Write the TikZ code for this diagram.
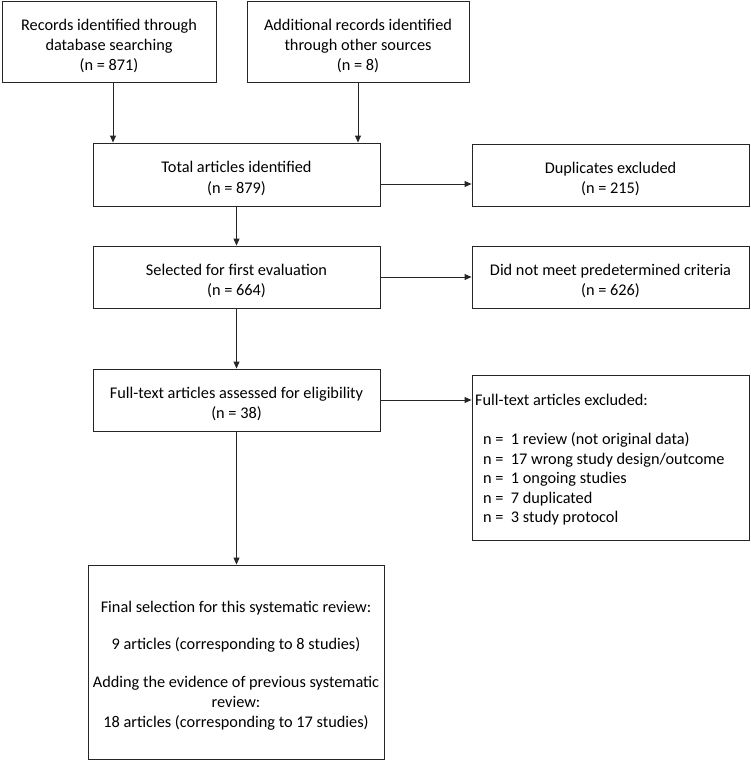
\documentclass[tikz,border=0pt]{standalone}
\usepackage{fontspec}
\setmainfont{Carlito}
\usetikzlibrary{arrows.meta}
\newcommand{\myst}{\rule{0pt}{19.5pt}}
\begin{document}
\begin{tikzpicture}[x=1pt,y=-1pt,
  box/.style={draw=black!85,line width=0.9pt,rectangle,inner sep=0pt,align=center,
     font=\fontsize{16.3}{20}\selectfont},
  arr/.style={draw=black!85,line width=0.9pt,-{Triangle[length=7pt,width=6pt]}}]
\useasboundingbox (0,0) rectangle (750,760);
\node[box,minimum width=214pt,minimum height=81pt] (rec) at (109,41.5)
  {\myst Records identified through\\database searching\\(n = 871)};
\node[box,minimum width=222pt,minimum height=81pt] (add) at (358,41.5)
  {\myst Additional records identified\\through other sources\\(n = 8)};
\node[box,minimum width=287pt,minimum height=63pt] (tot) at (236.5,174.5)
  {\myst Total articles identified\\[1pt](n = 879)};
\node[box,minimum width=277pt,minimum height=62pt] (dup) at (610.5,175)
  {\myst Duplicates excluded\\(n = 215)};
\node[box,minimum width=287pt,minimum height=62pt] (sel) at (236.5,277)
  {\myst Selected for first evaluation\\(n = 664)};
\node[box,minimum width=277pt,minimum height=62pt] (dnm) at (610.5,277)
  {\myst Did not meet predetermined criteria\\(n = 626)};
\node[box,minimum width=287pt,minimum height=62pt] (ful) at (236.5,400)
  {\myst Full-text articles assessed for eligibility\\(n = 38)};
\node[box,minimum width=277pt,minimum height=165pt] (exc) at (610.5,457.5) {};
\node[anchor=west,inner sep=0pt,align=left,font=\fontsize{16.3}{19.5}\selectfont]
  (exct) at (475,460)
  {Full-text articles excluded:\\[19.5pt]
   \hspace*{8pt}n = \ 1 review (not original data)\\
   \hspace*{8pt}n = \ 17 wrong study design/outcome\\
   \hspace*{8pt}n = \ 1 ongoing studies\\
   \hspace*{8pt}n = \ 7 duplicated\\
   \hspace*{8pt}n = \ 3 study protocol};
\node[box,minimum width=296pt,minimum height=194pt] (fin) at (236,662)
  {\myst Final selection for this systematic review:\\[17pt]
   9 articles (corresponding to 8 studies)\\[18pt]
   Adding the evidence of previous systematic\\review:\\
   18 articles (corresponding to 17 studies)};
\draw[arr] ([xshift=4pt]rec.south) -- ([xshift=4pt]rec.south |- tot.north);
\draw[arr] (add.south) -- (add.south |- tot.north);
\draw[arr] ([yshift=-9.5pt]tot.east) -- ([yshift=-9.5pt]tot.east -| dup.west);
\draw[arr] (tot.south) -- (sel.north);
\draw[arr] (sel.east) -- (dnm.west);
\draw[arr] (sel.south) -- (ful.north);
\draw[arr] (ful.east) -- (ful.east -| exc.west);
\draw[arr] (ful.south) -- (ful.south |- fin.north);
\end{tikzpicture}
\end{document}
